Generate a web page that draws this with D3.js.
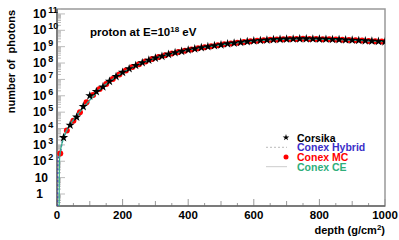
<!DOCTYPE html>
<html>
<head>
    <title>Photon longitudinal profile</title>
    <script src="https://cdn.jsdelivr.net/npm/d3@7/dist/d3.min.js"></script>
    <style>
        body { margin: 0; background: #fff; }
        svg text { font-family: "Liberation Sans", Arial, sans-serif; font-weight: bold; }
    </style>
</head>
<body>
    <div id="chart"></div>

    <script type="text/javascript">
        // Corsika (stars), every 20 g/cm2
        var corsikaDepth = [20,40,60,80,100,120,140,160,180,200,220,240,260,280,300,320,340,360,380,400,
                            420,440,460,480,500,520,540,560,580,600,620,640,660,680,700,720,740,760,780,800,
                            820,840,860,880,900,920,940,960,980,1000];
        var corsikaN = [2.8e3,1.6e4,5.0e4,2.2e5,1.0e6,1.8e6,3.5e6,7.6e6,1.5e7,2.7e7,4.5e7,7.1e7,1.05e8,1.5e8,2.0e8,2.6e8,3.4e8,4.3e8,5.2e8,6.3e8,
                        7.4e8,8.7e8,1.0e9,1.15e9,1.3e9,1.5e9,1.65e9,1.85e9,2.05e9,2.25e9,2.4e9,2.55e9,2.7e9,2.8e9,2.9e9,2.95e9,3.0e9,3.0e9,2.95e9,2.9e9,
                        2.85e9,2.75e9,2.7e9,2.6e9,2.5e9,2.4e9,2.3e9,2.2e9,2.1e9,2.0e9];

        // Conex MC (red dots)
        var mcDepth = [10,30,50,70,90,110,130,150,170,190,210,230,250,270,290,310,330,350,370,390,
                       410,430,450,470,490,510,530,550,570,590,610,630,650,670,690,710,730,750,770,790,
                       810,830,850,870,890,910,930,950,970,990];
        var mcN = [3.0e2,7.5e3,3.0e4,1.0e5,4.0e5,1.1e6,2.6e6,5.2e6,1.05e7,2.0e7,3.5e7,5.7e7,8.5e7,1.25e8,1.75e8,2.3e8,3.0e8,3.8e8,4.7e8,5.7e8,
                   6.8e8,8.0e8,9.3e8,1.07e9,1.22e9,1.4e9,1.57e9,1.75e9,1.95e9,2.15e9,2.3e9,2.5e9,2.62e9,2.75e9,2.85e9,2.9e9,2.98e9,3.0e9,2.98e9,2.92e9,
                   2.87e9,2.8e9,2.72e9,2.65e9,2.55e9,2.45e9,2.35e9,2.25e9,2.15e9,2.05e9];

        // Conex CE (solid line)
        var ceDepth = [6.5,7,8,10,15,20,30,40,60,80,100,125,150,175,200,250,300,350,400,450,500,550,600,650,700,750,800,850,900,950,1000];
        var ceN = [0.1,20,1.5e2,3.5e2,1.2e3,2.6e3,8e3,1.7e4,6e4,1.9e5,5.5e5,1.9e6,5.2e6,1.2e7,2.6e7,8.5e7,2.0e8,3.8e8,6.3e8,9.3e8,1.3e9,1.75e9,2.25e9,2.62e9,2.9e9,3.0e9,2.9e9,2.72e9,2.5e9,2.25e9,2.0e9];

        // Conex Hybrid (dashed line)
        var hyDepth = [1.5,2,3,6,10,15,20,30,40,60,80,100,125,150,175,200,250,300,350,400,450,500,550,600,650,700,750,800,850,900,950,1000];
        var hyN = [0.1,10,1.2e2,2.2e2,3.5e2,1.2e3,2.6e3,8e3,1.7e4,6e4,1.9e5,5.5e5,1.9e6,5.2e6,1.2e7,2.6e7,8.5e7,2.0e8,3.8e8,6.3e8,9.3e8,1.3e9,1.75e9,2.25e9,2.62e9,2.9e9,3.0e9,2.9e9,2.72e9,2.5e9,2.25e9,2.0e9];

        var xTicks = [0,200,400,600,800,1000];
        var yExponents = [0,1,2,3,4,5,6,7,8,9,10,11];

        var legendNames = ["Corsika","Conex Hybrid","Conex MC","Conex CE"];
        var legendColors = ["#000000","#3a2ec8","#ff0000","#2fae7a"];

        var W = 399, H = 240;
        var m = {left: 57, right: 14, top: 9, bottom: 34};

        var svg = d3.select("#chart").append("svg")
            .attr("width", W).attr("height", H);

        var x = d3.scaleLinear().domain([0, 1000]).range([m.left, W - m.right]);
        var y = d3.scaleLog().domain([0.185, 2e11]).range([H - m.bottom, m.top]);

        svg.append("defs").append("clipPath").attr("id", "clip")
            .append("rect")
            .attr("x", m.left).attr("y", m.top)
            .attr("width", W - m.left - m.right).attr("height", H - m.top - m.bottom);

        // frame
        svg.append("rect")
            .attr("x", m.left).attr("y", m.top)
            .attr("width", W - m.left - m.right).attr("height", H - m.top - m.bottom)
            .attr("fill", "none").attr("stroke", "#999").attr("stroke-width", 1.5);

        // y minor/major ticks (ROOT style, inside the frame)
        var gy = svg.append("g");
        yExponents.forEach(function(e) {
            for (var k = 1; k < 10; k++) {
                var v = k * Math.pow(10, e);
                if (v < y.domain()[0] || v > y.domain()[1]) continue;
                gy.append("line")
                    .attr("x1", m.left).attr("x2", m.left + (k == 1 ? 8 : 4))
                    .attr("y1", y(v)).attr("y2", y(v))
                    .attr("stroke", "#bbb").attr("stroke-width", 1);
            }
        });
        // below 1
        [0.2,0.3,0.4,0.5,0.6,0.7,0.8,0.9].forEach(function(v) {
            gy.append("line")
                .attr("x1", m.left).attr("x2", m.left + 4)
                .attr("y1", y(v)).attr("y2", y(v))
                .attr("stroke", "#bbb");
        });

        // y labels
        yExponents.forEach(function(e) {
            var t = gy.append("text")
                .attr("y", y(Math.pow(10, e)) + 4)
                .attr("font-size", "12px")
                .attr("fill", "#000");
            if (e == 0) {
                t.attr("x", 43).attr("text-anchor", "end").text("1");
            } else if (e == 1) {
                t.attr("x", 48).attr("text-anchor", "end").text("10");
            } else {
                t.attr("x", 33);
                t.append("tspan").text("10");
                t.append("tspan").attr("dx", 2).attr("dy", -5).attr("font-size", "9px").text(e);
            }
        });

        // x ticks
        var gx = svg.append("g");
        d3.range(0, 1001, 50).forEach(function(v) {
            var len = v % 200 == 0 ? 7 : (v % 100 == 0 ? 5 : 3);
            gx.append("line")
                .attr("x1", x(v)).attr("x2", x(v))
                .attr("y1", H - m.bottom).attr("y2", H - m.bottom - len)
                .attr("stroke", "#999");
        });
        xTicks.forEach(function(v) {
            gx.append("text")
                .attr("x", x(v)).attr("y", 219)
                .attr("text-anchor", "middle")
                .attr("font-size", "11.5px")
                .text(v);
        });

        // axis lines
        svg.append("line")
            .attr("x1", m.left).attr("x2", m.left)
            .attr("y1", m.top).attr("y2", H - m.bottom)
            .attr("stroke", "#444");
        svg.append("line")
            .attr("x1", m.left).attr("x2", W - m.right)
            .attr("y1", H - m.bottom).attr("y2", H - m.bottom)
            .attr("stroke", "#444");

        // axis titles
        var xt = svg.append("text")
            .attr("x", W - m.right).attr("y", 234)
            .attr("text-anchor", "end")
            .attr("font-size", "11px");
        xt.append("tspan").text("depth (g/cm");
        xt.append("tspan").attr("dy", -4).attr("font-size", "8px").text("2");
        xt.append("tspan").attr("dy", 4).text(")");

        svg.append("text")
            .attr("transform", "translate(15," + 10 + ") rotate(-90)")
            .attr("text-anchor", "end")
            .attr("font-size", "11px")
            .attr("xml:space", "preserve")
            .text("number of  photons");

        // title
        var tt = svg.append("text")
            .attr("x", 90).attr("y", 36)
            .attr("font-size", "11.5px");
        tt.append("tspan").text("proton at E=10");
        tt.append("tspan").attr("dy", -4).attr("font-size", "8px").text("18");
        tt.append("tspan").attr("dy", 4).text(" eV");

        // data
        var plot = svg.append("g").attr("clip-path", "url(#clip)");

        plot.selectAll("circle.mc")
            .data(mcDepth)
            .enter().append("circle")
            .attr("class", "mc")
            .attr("cx", function(d) { return x(d); })
            .attr("cy", function(d, i) { return y(mcN[i]); })
            .attr("r", 3)
            .attr("fill", "#ff0000");

        var lineFn = function(depths, vals) {
            return d3.line()
                .x(function(d) { return x(d); })
                .y(function(d, i) { return y(vals[i]); })
                .curve(d3.curveMonotoneX)(depths);
        };

        plot.append("path")
            .attr("d", lineFn(hyDepth, hyN))
            .attr("fill", "none")
            .attr("stroke", "#4a4aa8")
            .attr("stroke-width", 1.5)
            .attr("stroke-dasharray", "2,2");

        plot.append("path")
            .attr("d", lineFn(ceDepth, ceN))
            .attr("fill", "none")
            .attr("stroke", "#2fae8a")
            .attr("stroke-width", 1.2);

        var star = d3.symbol().type(d3.symbolStar).size(26);
        plot.selectAll("path.cors")
            .data(corsikaDepth)
            .enter().append("path")
            .attr("class", "cors")
            .attr("d", star)
            .attr("transform", function(d, i) { return "translate(" + x(d) + "," + y(corsikaN[i]) + ")"; })
            .attr("fill", "#000");

        // legend
        var lg = svg.append("g");
        var ly = [137.5, 147.3, 157, 166.7];
        lg.append("path")
            .attr("d", d3.symbol().type(d3.symbolStar).size(14))
            .attr("transform", "translate(286," + ly[0] + ")");
        lg.append("line")
            .attr("x1", 266).attr("x2", 287).attr("y1", ly[1]).attr("y2", ly[1])
            .attr("stroke", "#bbb").attr("stroke-dasharray", "2,2");
        lg.append("circle")
            .attr("cx", 286).attr("cy", ly[2]).attr("r", 2.5).attr("fill", "#ff0000");
        lg.append("line")
            .attr("x1", 266).attr("x2", 287).attr("y1", ly[3]).attr("y2", ly[3])
            .attr("stroke", "#ccc");
        lg.selectAll("text")
            .data(legendNames)
            .enter().append("text")
            .attr("x", 297)
            .attr("y", function(d, i) { return ly[i] + 4; })
            .attr("font-size", "10.5px")
            .attr("fill", function(d, i) { return legendColors[i]; })
            .text(function(d) { return d; });
    </script>
</body>
</html>
